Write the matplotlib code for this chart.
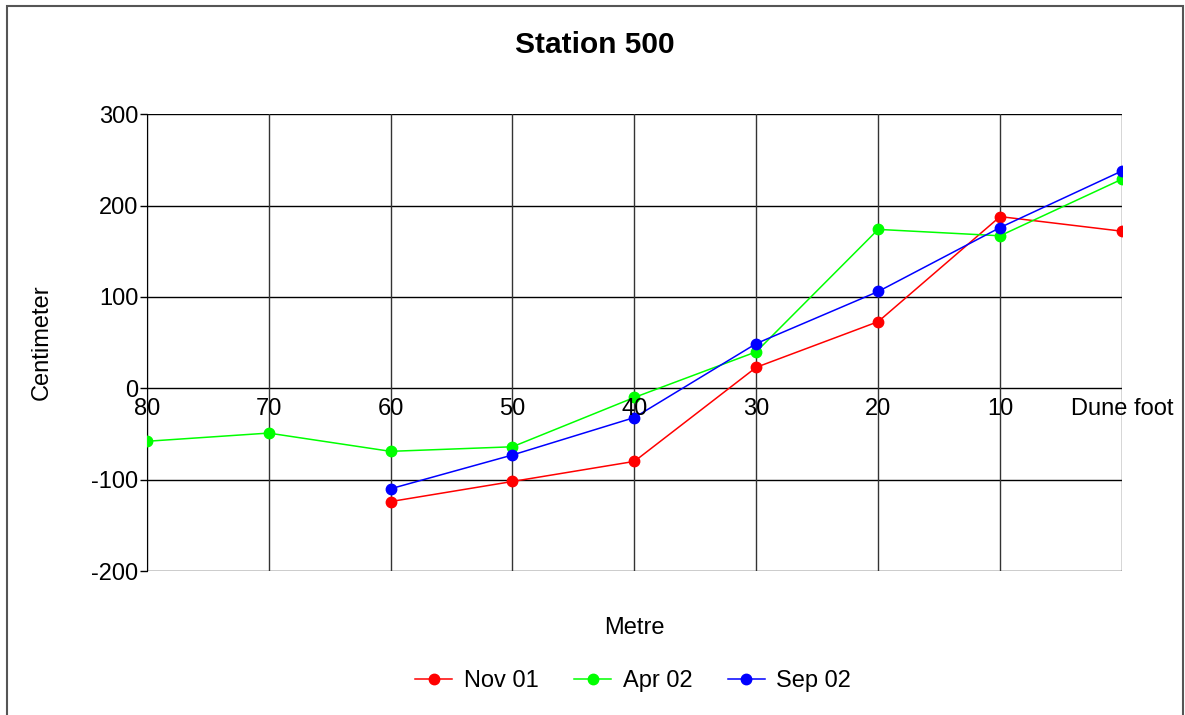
import matplotlib
matplotlib.use("Agg")
import matplotlib.pyplot as plt
from matplotlib.patches import Rectangle

categories = ["80", "70", "60", "50", "40", "30", "20", "10", "Dune foot"]
nov01 = [None, None, -124, -102, -80, 23, 73, 188, 172]
apr02 = [-58, -49, -69, -64, -10, 40, 174, 167, 229]
sep02 = [None, None, -110, -73, -32, 49, 106, 176, 238]
yticks = [-200, -100, 0, 100, 200, 300]

series = [("Nov 01", nov01, "#ff0000"), ("Apr 02", apr02, "#00ff00"), ("Sep 02", sep02, "#0000ff")]

plt.rcParams['font.family'] = ['Liberation Sans', 'DejaVu Sans']
W, H = 1185, 715
fig = plt.figure(figsize=(W / 100, H / 100), dpi=100)
ax = fig.add_axes([146.7 / W, 1 - 571 / H, (1122 - 146.7) / W, (571 - 114.3) / H])

x = list(range(len(categories)))
for name, vals, col in series:
    xs = [i for i, v in zip(x, vals) if v is not None]
    ys = [v for v in vals if v is not None]
    ax.plot(xs, ys, color=col, lw=1.1, marker='o', ms=7.5, label=name, zorder=3)

ax.set_xlim(0, len(categories) - 1)
ax.set_ylim(-200, 300)
ax.set_yticks(yticks)
ax.set_yticklabels([str(t) for t in yticks], fontsize=17)
ax.tick_params(axis='y', length=5, width=1, direction='out', pad=1)
ax.set_xticks([])
for s in ax.spines.values():
    s.set_visible(False)
ax.spines['left'].set_visible(True)
ax.spines['left'].set_color('black')

for t in yticks:
    ax.axhline(t, color='black', lw=1, zorder=1)
for i in x:
    ax.axvline(i, color='#333333', lw=1, zorder=1)

for i, c in enumerate(categories):
    ax.text(i, -11, c, ha='center', va='top', fontsize=17, zorder=4)

fig.text(595 / W, 1 - 45 / H, "Station 500", ha='center', va='center', fontsize=21.5, fontweight='bold')
fig.text(42 / W, 1 - 342 / H, "Centimeter", rotation=90, ha='center', va='center', fontsize=17)
fig.text(634 / W, 1 - 628 / H, "Metre", ha='center', va='center', fontsize=17)

handles, labels = ax.get_legend_handles_labels()
fig.legend(handles, labels, loc='center', bbox_to_anchor=(633 / W, 1 - 681 / H), ncol=3,
           frameon=False, fontsize=17, handlelength=1.6, columnspacing=1.5, handletextpad=0.47)

fig.patches.append(Rectangle((6.5 / W, -0.05), (1183 - 6.5) / W, 1.05 - 6.5 / H, transform=fig.transFigure,
                             fill=False, edgecolor='#555555', lw=1.5))
fig.savefig("out.png", dpi=100)
